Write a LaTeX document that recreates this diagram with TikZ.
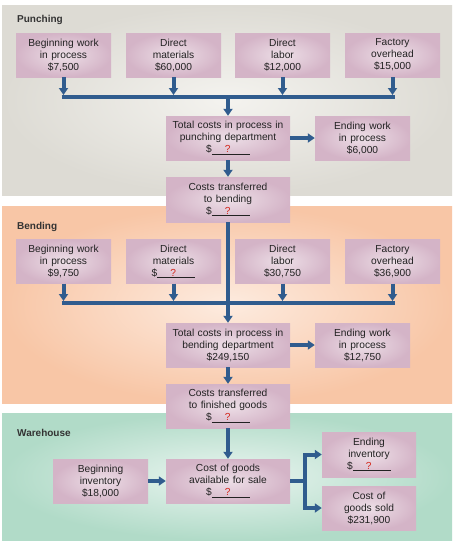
\documentclass[tikz,border=0pt]{standalone}
\usepackage{fontspec}
\setmainfont{Liberation Sans}
\usetikzlibrary{arrows.meta}
\definecolor{arr}{RGB}{48,92,142}
\definecolor{boxin}{HTML}{EDDFE7}
\definecolor{boxout}{HTML}{D4B4C7}
\definecolor{txt}{HTML}{222222}
\definecolor{labtxt}{HTML}{333333}
\definecolor{qred}{HTML}{D42A1F}
\definecolor{pin}{HTML}{F4F3EF}
\definecolor{pout}{HTML}{DDDBD4}
\definecolor{bin}{HTML}{FDEBDF}
\definecolor{bout}{HTML}{F8C6A6}
\definecolor{win}{HTML}{EAF5F0}
\definecolor{wout}{HTML}{B1DBC8}
\newcommand{\qb}{\$\underline{\makebox[38pt][l]{\hspace{13pt}\textcolor{qred}{?}}}}
\begin{document}
\begin{tikzpicture}[x=1pt,y=-1pt,
  box/.style={inner color=boxin, outer color=boxout, minimum height=44pt, inner sep=0pt, align=center, font=\fontsize{10.2}{12}\selectfont, text=txt},
  sbox/.style={box, minimum width=95pt, text width=93pt},
  wbox/.style={box, minimum width=124pt, text width=122pt},
  flow/.style={draw=arr, line width=4pt, -{Triangle[length=7pt,width=9pt]}},
  bar/.style={draw=arr, line width=4pt},
  lab/.style={anchor=base west, font=\fontsize{10}{12}\selectfont\bfseries, text=labtxt, inner sep=0pt}]
\useasboundingbox (0,0) rectangle (458,547);
\fill[white] (0,0) rectangle (458,547);
% panels
\shade[inner color=pin, outer color=pout] (2,5) rectangle (452,195);
\shade[inner color=bin, outer color=bout] (2,206) rectangle (452,403);
\shade[inner color=win, outer color=wout] (2,413) rectangle (452,540);
\node[lab] (lp) at (17,22) {Punching};
\node[lab] (lb) at (17,229.5) {Bending};
\node[lab] (lw) at (17,436) {Warehouse};
% Punching
\node[sbox] (p1) at (63.5,55) {Beginning work\\in process\\\$7,500};
\node[sbox] (p2) at (173.5,55) {Direct\\materials\\\$60,000};
\node[sbox] (p3) at (282.5,55) {Direct\\labor\\\$12,000};
\node[sbox] (p4) at (392.5,55) {Factory\\overhead\\\$15,000};
\node[wbox] (ptot) at (228,138) {Total costs in process in\\punching department\\\qb};
\node[sbox] (pend) at (362.5,138) {Ending work\\in process\\\$6,000};
\node[wbox,minimum height=45pt] (pct) at (228,199.5) {Costs transferred\\to bending\\\qb};
\coordinate (pbl) at (63.5,97);
\coordinate (pbr) at (392.5,97);
\draw[bar] ([xshift=-2pt]pbl) -- ([xshift=2pt]pbr);
\foreach \n in {p1,p2,p3,p4}
  \draw[flow, shorten >=2pt] (\n.south) -- (\n.south |- pbl);
\draw[flow] (ptot.north |- pbl) -- (ptot.north);
\draw[flow] (ptot.east) -- (pend.west);
\draw[flow] (ptot.south) -- (pct.north);
% Bending
\node[sbox] (b1) at (63.5,261.5) {Beginning work\\in process\\\$9,750};
\node[sbox] (b2) at (173.5,261.5) {Direct\\materials\\\qb};
\node[sbox] (b3) at (282.5,261.5) {Direct\\labor\\\$30,750};
\node[sbox] (b4) at (392.5,261.5) {Factory\\overhead\\\$36,900};
\node[wbox] (btot) at (228,345) {Total costs in process in\\bending department\\\$249,150};
\node[sbox] (bend) at (362.5,345) {Ending work\\in process\\\$12,750};
\node[wbox] (bct) at (228,406) {Costs transferred\\to finished goods\\\qb};
\coordinate (bbl) at (63.5,303);
\coordinate (bbr) at (392.5,303);
\draw[bar] ([xshift=-2pt]bbl) -- ([xshift=2pt]bbr);
\foreach \n in {b1,b2,b3,b4}
  \draw[flow, shorten >=2pt] (\n.south) -- (\n.south |- bbl);
\draw[flow] (pct.south) -- (btot.north);
\draw[flow] (btot.east) -- (bend.west);
\draw[flow] (btot.south) -- (bct.north);
% Warehouse
\node[sbox] (wbeg) at (100.5,481) {Beginning\\inventory\\\$18,000};
\node[wbox] (cga) at (228,481) {Cost of goods\\available for sale\\\qb};
\node[sbox,minimum width=94pt,text width=92pt,minimum height=45pt] (einv) at (369,454.5) {Ending\\inventory\\\qb};
\node[sbox,minimum width=94pt,text width=92pt] (cogs) at (369,508) {Cost of\\goods sold\\\$231,900};
\coordinate (fork) at (305,481);
\draw[flow] (bct.south) -- (cga.north);
\draw[flow] (wbeg.east) -- (cga.west);
\draw[flow, line join=miter] (cga.east) -- (fork) |- (einv.west);
\draw[flow, line join=miter] (fork) |- (cogs.west);
\end{tikzpicture}
\end{document}
